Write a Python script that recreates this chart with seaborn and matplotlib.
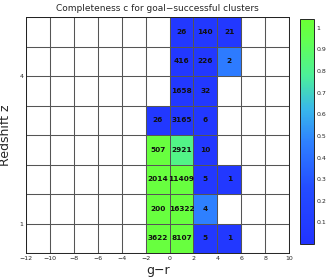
import numpy as np
import pandas as pd
import matplotlib
matplotlib.use("Agg")
import matplotlib.pyplot as plt
import seaborn as sns
from matplotlib.colors import LinearSegmentedColormap

# bin edges
x_edges = [-12, -10, -8, -6, -4, -2, 0, 2, 4, 6, 8, 10]
z_edges = [0.4, 1.0, 1.6, 2.2, 2.8, 3.4, 4.0, 4.6, 5.2]

# cells: (x-bin left edge, z-bin lower edge, count, completeness)
cell_x = [0, 2, 4, 0, 2, 4, 0, 2, -2, 0, 2, -2, 0, 2, -2, 0, 2, 4, -2, 0, 2, -2, 0, 2, 4]
cell_z = [4.6, 4.6, 4.6, 4.0, 4.0, 4.0, 3.4, 3.4, 2.8, 2.8, 2.8, 2.2, 2.2, 2.2,
          1.6, 1.6, 1.6, 1.6, 1.0, 1.0, 1.0, 0.4, 0.4, 0.4, 0.4]
cell_n = [26, 140, 21, 416, 226, 2, 1658, 32, 26, 3165, 6, 507, 2921, 10,
          2014, 11409, 5, 1, 200, 16322, 4, 3622, 8107, 5, 1]
cell_c = [0.05, 0.05, 0.05, 0.05, 0.05, 0.45, 0.05, 0.05, 0.05, 0.05, 0.05,
          1.0, 0.82, 0.05, 1.0, 1.0, 0.05, 0.05, 1.0, 1.0, 0.47, 1.0, 1.0, 0.05, 0.05]

sns.set_style("white")
plt.rcParams['font.family'] = ['DejaVu Sans']

cmap = LinearSegmentedColormap.from_list("cbg", [
    (0.0, (0.13, 0.20, 1.0)),
    (0.25, (0.14, 0.30, 1.0)),
    (0.45, (0.18, 0.50, 1.0)),
    (0.6, (0.22, 0.72, 0.92)),
    (0.75, (0.30, 0.94, 0.60)),
    (0.9, (0.38, 1.0, 0.33)),
    (1.0, (0.42, 1.0, 0.20)),
])
vmin, vmax = 0.0, 1.04

nx, nz = len(x_edges) - 1, len(z_edges) - 1
C = np.full((nz, nx), np.nan)
for xv, zv, cv in zip(cell_x, cell_z, cell_c):
    i = int(round((zv - z_edges[0]) / 0.6))
    j = x_edges.index(xv)
    C[i, j] = cv

fig = plt.figure(figsize=(3.27, 2.79), dpi=100)
ax = fig.add_axes([0.08, 0.093, 0.804, 0.846])
cax = fig.add_axes([0.917, 0.125, 0.043, 0.807])

for xe in x_edges:
    ax.axvline(xe, color='#1a1a1a', lw=0.75, zorder=0.5)
for ze in z_edges:
    ax.axhline(ze, color='#1a1a1a', lw=0.75, zorder=0.5)
mesh = ax.pcolormesh(x_edges, z_edges, np.ma.masked_invalid(C), cmap=cmap,
                     vmin=vmin, vmax=vmax, edgecolor='#555555', linewidth=0.7,
                     zorder=1)

for xv, zv, n in zip(cell_x, cell_z, cell_n):
    ax.text(xv + 1, zv + 0.3, str(n), ha='center', va='center', fontsize=5.3,
            color='#111111', fontweight='bold', zorder=2)

ax.set_xlim(-12, 10)
ax.set_ylim(0.4, 5.2)
ax.set_xticks(range(-12, 11, 2))
ax.set_xticklabels([str(v).replace('-', '\u2212') for v in range(-12, 11, 2)])
ax.set_yticks([1, 4])
ax.tick_params(labelsize=4.5, length=2, width=0.5, direction='in', pad=2)
for s in ax.spines.values():
    s.set_color('#222222')
    s.set_linewidth(0.7)
ax.set_xlabel('g\u2212r', fontsize=9, labelpad=2)
ax.set_ylabel('Redshift z', fontsize=9, labelpad=5)
ax.set_title('Completeness c for goal\u2212successful clusters', fontsize=6.5, pad=4)

cb = fig.colorbar(mesh, cax=cax, ticks=[0.1, 0.2, 0.3, 0.4, 0.5, 0.6, 0.7, 0.8, 0.9, 1])
cb.ax.set_yticklabels(['0.1', '0.2', '0.3', '0.4', '0.5', '0.6', '0.7', '0.8', '0.9', '1'])
cb.ax.tick_params(labelsize=4.5, length=2, width=0.5, direction='in', pad=2)
cb.outline.set_linewidth(0.7)

fig.savefig('out.png', dpi=100)
